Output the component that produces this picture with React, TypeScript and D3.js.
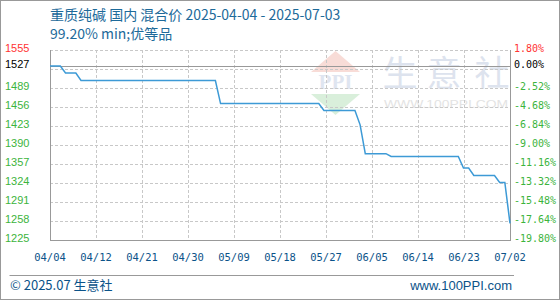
import React from "react";
import * as d3 from "d3";

// Daily prices 2025-04-04 .. 2025-07-02 (yuan/ton)
const prices: number[] = [
  1527, 1527, 1527, 1515, 1515, 1515,
  1502, 1502, 1502, 1502, 1502, 1502, 1502, 1502, 1502, 1502,
  1502, 1502, 1502, 1502, 1502, 1502, 1502, 1502, 1502, 1502,
  1502, 1502, 1502, 1502, 1502, 1502, 1502,
  1462, 1462, 1462, 1462, 1462, 1462, 1462, 1462, 1462, 1462,
  1462, 1462, 1462, 1462, 1462, 1462, 1462, 1462, 1462, 1462,
  1450, 1450, 1450, 1450, 1450, 1450, 1450,
  1425,
  1375, 1375, 1375, 1375, 1375,
  1370, 1370, 1370, 1370, 1370, 1370, 1370, 1370, 1370, 1370, 1370, 1370, 1370, 1370,
  1350, 1350,
  1337, 1337, 1337, 1337, 1337,
  1325, 1325,
  1254,
];

const xTickLabels: string[] = [
  "04/04", "04/12", "04/21", "04/30", "05/09", "05/18",
  "05/27", "06/05", "06/14", "06/23", "07/02",
];

const leftTicks: number[] = [1555, 1527, 1489, 1456, 1423, 1390, 1357, 1324, 1291, 1258, 1225];
const rightTicks: string[] = [
  "1.80%", "0.00%", "-2.52%", "-4.68%", "-6.84%", "-9.00%",
  "-11.16%", "-13.32%", "-15.48%", "-17.64%", "-19.80%",
];
const gridValues: number[] = [1555, 1522, 1489, 1456, 1423, 1390, 1357, 1324, 1291, 1258, 1225];
const basePrice = 1527;

const title1 = "重质纯碱 国内 混合价 2025-04-04 - 2025-07-03";
const title2 = "99.20% min;优等品";

const W = 560;
const H = 300;
const plot = { left: 50, right: 510, top: 50, bottom: 240 };

const GREEN = "#3cb43c";
const RED = "#ff3333";
const BLUE_TEXT = "#1d6a9a";
const AXIS_TEXT = "#0b5389";
const LINE = "#3d9ad6";
const GRID = "#c8c8c8";
const FRAME = "#999999";

export default function App() {
  const x = d3.scaleLinear().domain([0, prices.length - 1]).range([plot.left, plot.right]);
  const y = d3.scaleLinear().domain([1225, 1555]).range([plot.bottom, plot.top]);
  const line = d3
    .line<number>()
    .x((_, i) => x(i))
    .y((d) => y(d));

  const tickPos = xTickLabels.map((_, k) => x((k * (prices.length - 1)) / (xTickLabels.length - 1)));
  const cjk = "'Noto Sans CJK SC', 'Noto Sans', sans-serif";
  const mono = "'DejaVu Sans Mono', monospace";

  return (
    <svg
      width={W}
      height={H}
      style={{ position: "fixed", left: 0, top: 0, background: "#fff" }}
      xmlns="http://www.w3.org/2000/svg"
    >
      <rect x={0.5} y={0.5} width={W - 1} height={H - 1} fill="#fff" stroke={FRAME} />

      {/* title */}
      <text x={50} y={20} fontFamily={cjk} fontSize={14} fill={BLUE_TEXT}>{title1}</text>
      <text x={50} y={38.5} fontFamily={cjk} fontSize={14} fill={BLUE_TEXT}>{title2}</text>

      {/* watermark */}
      <g>
        <polygon points="335.5,51 311,72 360,72" fill="#f8dcd7" />
        <text x={335.5} y={89} textAnchor="middle" fontFamily="'Liberation Serif', serif" fontWeight="bold" fontSize={21} fill="#dfe5f0">PPI</text>
        <polygon points="311,94 360,94 335.5,115" fill="#d9efdb" />
        <text x={400} y={86} textAnchor="middle" fontFamily={cjk} fontSize={35} fill="#dde3ee">生</text>
        <text x={444} y={86} textAnchor="middle" fontFamily={cjk} fontSize={35} fill="#dde3ee">意</text>
        <text x={492} y={86} textAnchor="middle" fontFamily={cjk} fontSize={35} fill="#dde3ee">社</text>
        <text x={446} y={108} textAnchor="middle" fontFamily="'Liberation Sans', sans-serif" fontSize={11.5} fill="#e3e3e3" textLength={124} lengthAdjust="spacingAndGlyphs">WWW.100PPI.COM</text>
      </g>

      {/* horizontal grid */}
      {gridValues.map((v) => (
        <line key={"h" + v} x1={plot.left} x2={plot.right} y1={Math.round(y(v)) + 0.5} y2={Math.round(y(v)) + 0.5} stroke={GRID} strokeDasharray="3,2" />
      ))}
      {/* vertical grid */}
      {tickPos.slice(1, -1).map((p, k) => (
        <line key={"v" + k} x1={Math.round(p) + 0.5} x2={Math.round(p) + 0.5} y1={plot.top} y2={plot.bottom} stroke={GRID} strokeDasharray="3,2" />
      ))}

      {/* base price line */}
      <line x1={plot.left} x2={plot.right} y1={Math.round(y(basePrice)) + 0.5} y2={Math.round(y(basePrice)) + 0.5} stroke={FRAME} />

      {/* frame */}
      <line x1={plot.left + 0.5} x2={plot.left + 0.5} y1={plot.top} y2={plot.bottom + 0.5} stroke={FRAME} />
      <line x1={plot.right + 0.5} x2={plot.right + 0.5} y1={plot.top} y2={plot.bottom + 0.5} stroke={FRAME} />
      <line x1={plot.left} x2={plot.right + 1} y1={plot.bottom + 0.5} y2={plot.bottom + 0.5} stroke={FRAME} />

      {/* price line */}
      <path d={line(prices) || ""} fill="none" stroke={LINE} strokeWidth={1.5} />

      {/* left axis */}
      {leftTicks.map((v, i) => (
        <text key={"l" + v} x={5} y={y(v) - 1} dominantBaseline="middle" fontFamily="'Liberation Sans', sans-serif" fontSize={11}
          fill={i === 0 ? RED : i === 1 ? "#000" : GREEN}>{v}</text>
      ))}
      {/* right axis */}
      {rightTicks.map((t, i) => (
        <text key={"r" + t} x={514} y={y(leftTicks[i]) - 1} dominantBaseline="middle" fontFamily={mono} fontSize={10}
          fill={i === 0 ? RED : i === 1 ? "#000" : GREEN}>{t}</text>
      ))}

      {/* x axis labels */}
      {xTickLabels.map((t, k) => (
        <text key={"x" + t} x={tickPos[k]} y={261} textAnchor="middle" fontFamily={mono} fontSize={10.5} fill={AXIS_TEXT}>{t}</text>
      ))}

      {/* footer */}
      <line x1={9.5} x2={514} y1={275.5} y2={275.5} stroke={FRAME} />
      <text x={10} y={290} fontFamily={cjk} fontSize={13} fill={AXIS_TEXT}>© 2025.07 生意社</text>
      <text x={512} y={290} textAnchor="end" fontFamily="'Liberation Sans', 'Noto Sans', sans-serif" fontSize={13} fill={AXIS_TEXT}>www.100PPI.com</text>
    </svg>
  );
}
